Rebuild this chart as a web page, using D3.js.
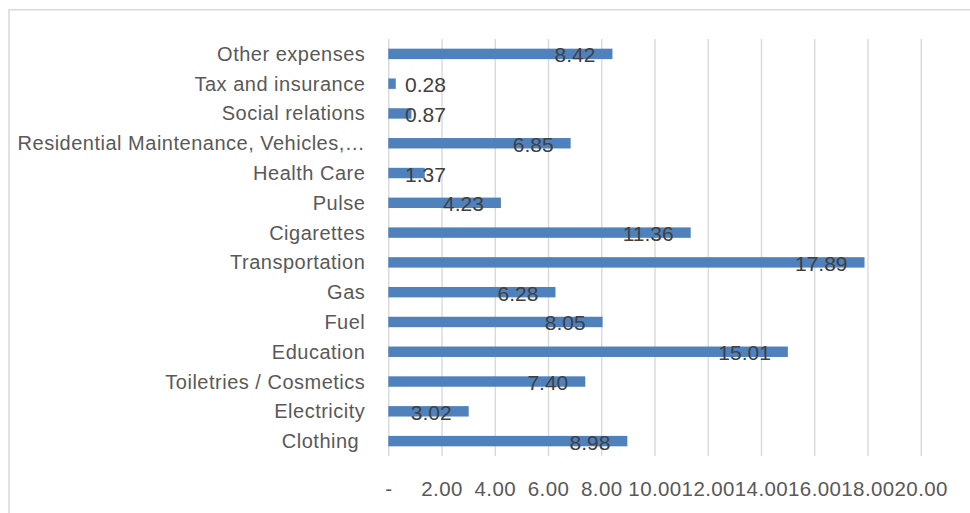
<!DOCTYPE html>
<html>
<head>
<meta charset="utf-8">
<script src="https://cdn.jsdelivr.net/npm/d3@7"></script>
<style>
  html, body { margin: 0; padding: 0; background: #fff; }
  svg { display: block; }
</style>
</head>
<body>
<svg id="chart" width="970" height="513"></svg>
<script>
// Categories listed top to bottom as drawn
const categories = [
  "Other expenses",
  "Tax and insurance",
  "Social relations",
  "Residential Maintenance, Vehicles,…",
  "Health Care",
  "Pulse",
  "Cigarettes",
  "Transportation",
  "Gas",
  "Fuel",
  "Education",
  "Toiletries / Cosmetics",
  "Electricity",
  "Clothing "
];
const values = [8.42, 0.28, 0.87, 6.85, 1.37, 4.23, 11.36, 17.89, 6.28, 8.05, 15.01, 7.40, 3.02, 8.98];
const tickValues = [0, 2, 4, 6, 8, 10, 12, 14, 16, 18, 20];
const tickLabels = ["-", "2.00", "4.00", "6.00", "8.00", "10.00", "12.00", "14.00", "16.00", "18.00", "20.00"];

const svg = d3.select("#chart");
const W = 970, H = 513;
const plot = { left: 388.3, right: 920.7, top: 39, bottom: 456 };
const FONT = "'Liberation Sans', Arial, sans-serif";

// chart border
svg.append("rect")
  .attr("x", 9).attr("y", 9.7)
  .attr("width", W + 10).attr("height", H + 10)
  .attr("fill", "#fff")
  .attr("stroke", "#d9d9d9")
  .attr("stroke-width", 1.5);

const x = d3.scaleLinear().domain([0, 20]).range([plot.left, plot.right]);
const y = d3.scaleBand().domain(categories).range([plot.top, plot.bottom])
  .paddingInner(0.65).paddingOuter(0.325);

// gridlines
const grid = svg.append("g")
  .attr("transform", `translate(0,${plot.bottom})`)
  .call(d3.axisBottom(x).tickValues(tickValues).tickSize(-(plot.bottom - plot.top)).tickFormat(""));
grid.select(".domain").remove();
grid.selectAll(".tick line").attr("stroke", "#d9d9d9").attr("stroke-width", 1.4);

// x tick labels
const xAxis = svg.append("g")
  .attr("transform", `translate(0,${plot.bottom})`)
  .call(d3.axisBottom(x).tickValues(tickValues).tickSize(0).tickFormat((d, i) => tickLabels[i]));
xAxis.select(".domain").remove();
xAxis.selectAll(".tick text")
  .attr("y", 40).attr("dy", 0)
  .attr("fill", "#595959")
  .style("font-family", FONT)
  .style("font-size", "20.5px")
  .style("letter-spacing", "0.4px");

// bars
svg.append("g").selectAll("rect")
  .data(categories)
  .join("rect")
  .attr("x", x(0))
  .attr("y", (d) => y(d))
  .attr("width", (d, i) => x(values[i]) - x(0))
  .attr("height", y.bandwidth())
  .attr("fill", "#4f81bd");

// category labels
const yAxis = svg.append("g")
  .attr("transform", `translate(${plot.left},0)`)
  .call(d3.axisLeft(y).tickSize(0).tickPadding(23));
yAxis.select(".domain").remove();
yAxis.selectAll(".tick text")
  .attr("dy", 7)
  .attr("fill", "#595959")
  .style("white-space", "pre")
  .style("font-family", FONT)
  .style("font-size", "20px")
  .style("letter-spacing", "0.5px");

// data labels (inside end, clamped)
const labels = svg.append("g").selectAll("text")
  .data(categories)
  .join("text")
  .attr("text-anchor", "end")
  .attr("y", (d) => y(d) + y.bandwidth() / 2 + 8.5)
  .attr("fill", "#404040")
  .style("font-family", FONT)
  .style("font-size", "21px")
  .text((d, i) => values[i].toFixed(2));
labels.each(function (d, i) {
  const w = this.getComputedTextLength();
  const end = Math.max(x(values[i]) - 17, 405 + w);
  d3.select(this).attr("x", end);
});
</script>
</body>
</html>
